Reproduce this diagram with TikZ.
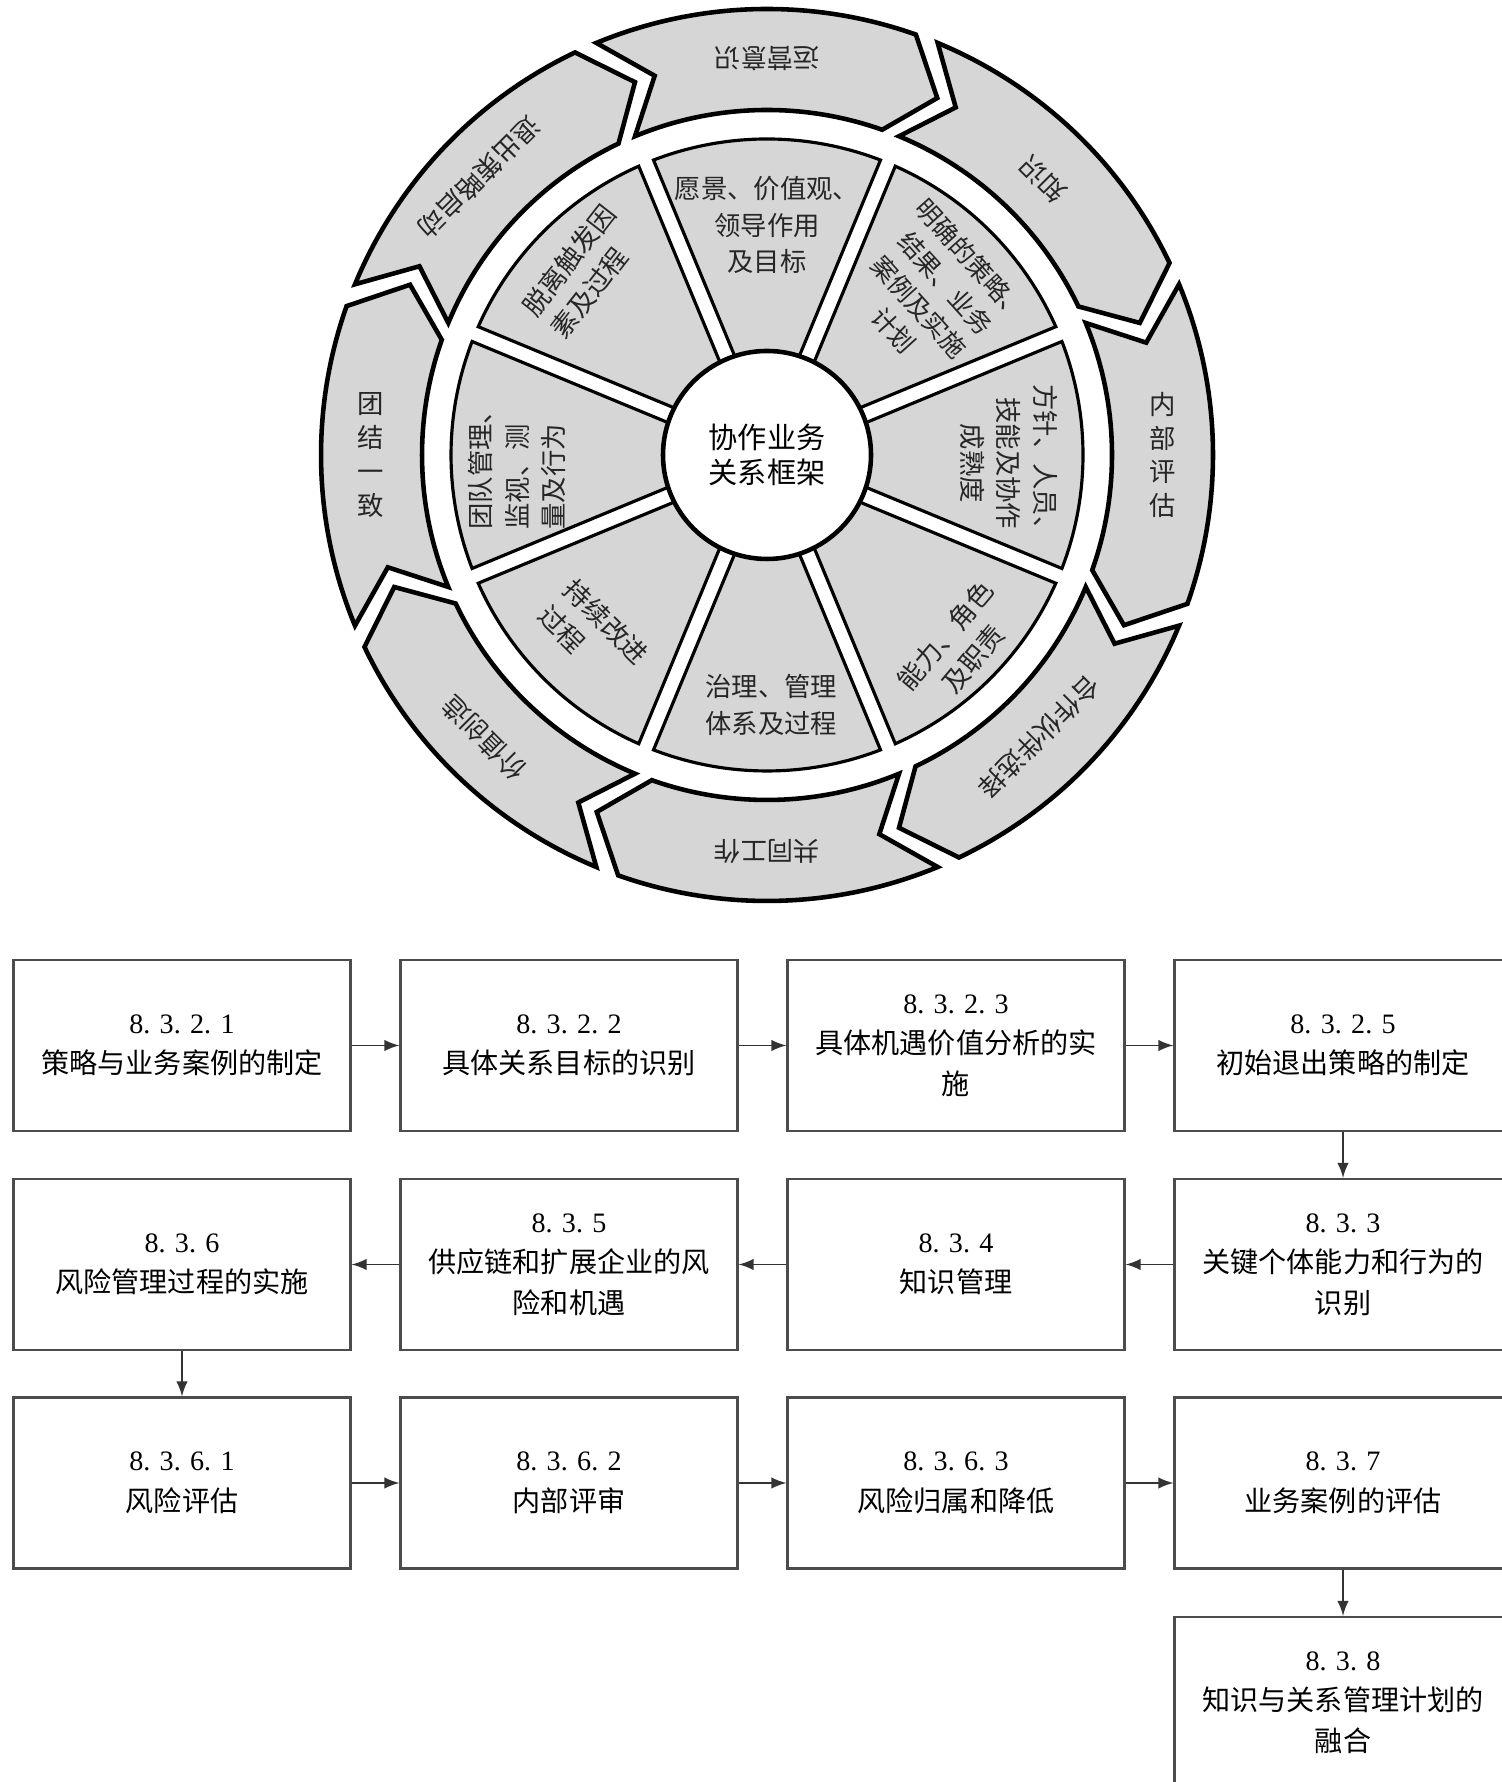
\documentclass[tikz,border=0pt]{standalone}
\usepackage{fontspec}
\setmainfont{Liberation Serif}
\newfontfamily\cjkfont{Noto Sans CJK SC}
\usepackage{tikz}
\usetikzlibrary{arrows,shapes,positioning}
\newcommand{\secno}[1]{{\rmfamily #1}}

\begin{document}
\begin{tikzpicture}[
    segment/.style={draw=black, line width=1.3pt, fill=black!16},
    wedge/.style={draw=black, line width=0.9pt, fill=black!16},
    ringtext/.style={font=\cjkfont\fontsize{7.5pt}{9.6pt}\selectfont, text=black!85, align=center, inner sep=0pt},
    wedgetext/.style={font=\cjkfont\fontsize{7.5pt}{10.3pt}\selectfont, text=black!85, inner sep=0pt},
    hub/.style={circle, draw=black, line width=1.3pt, fill=white, minimum size=2.08cm, inner sep=0pt, align=center, font=\cjkfont\fontsize{8.3pt}{10pt}\selectfont},
    stepbox/.style={rectangle, draw=black!70, line width=0.6pt, minimum width=3.37cm, minimum height=1.71cm, align=center, inner sep=2pt, font=\cjkfont\fontsize{8pt}{11.5pt}\selectfont},
    flow/.style={-latex, line width=0.5pt, black!80}
  ]
    \useasboundingbox (0,0) rectangle (15.01,17.82);

    % Top: collaborative business relationship wheel
    \begin{scope}[shift={(7.67,13.27)}]
      % outer ring: eight arrows running clockwise
      \filldraw[segment] (112.5:4.46) arc[start angle=112.5, end angle=70.5, radius=4.46] -- (64.5:3.955) -- (70.5:3.45) arc[start angle=70.5, end angle=112.5, radius=3.45] -- (106.5:3.955) -- cycle;
      \filldraw[segment] (67.5:4.46) arc[start angle=67.5, end angle=25.5, radius=4.46] -- (19.5:3.955) -- (25.5:3.45) arc[start angle=25.5, end angle=67.5, radius=3.45] -- (61.5:3.955) -- cycle;
      \filldraw[segment] (22.5:4.46) arc[start angle=22.5, end angle=-19.5, radius=4.46] -- (-25.5:3.955) -- (-19.5:3.45) arc[start angle=-19.5, end angle=22.5, radius=3.45] -- (16.5:3.955) -- cycle;
      \filldraw[segment] (-22.5:4.46) arc[start angle=-22.5, end angle=-64.5, radius=4.46] -- (-70.5:3.955) -- (-64.5:3.45) arc[start angle=-64.5, end angle=-22.5, radius=3.45] -- (-28.5:3.955) -- cycle;
      \filldraw[segment] (-67.5:4.46) arc[start angle=-67.5, end angle=-109.5, radius=4.46] -- (-115.5:3.955) -- (-109.5:3.45) arc[start angle=-109.5, end angle=-67.5, radius=3.45] -- (-73.5:3.955) -- cycle;
      \filldraw[segment] (-112.5:4.46) arc[start angle=-112.5, end angle=-154.5, radius=4.46] -- (-160.5:3.955) -- (-154.5:3.45) arc[start angle=-154.5, end angle=-112.5, radius=3.45] -- (-118.5:3.955) -- cycle;
      \filldraw[segment] (-157.5:4.46) arc[start angle=-157.5, end angle=-199.5, radius=4.46] -- (-205.5:3.955) -- (-199.5:3.45) arc[start angle=-199.5, end angle=-157.5, radius=3.45] -- (-163.5:3.955) -- cycle;
      \filldraw[segment] (-202.5:4.46) arc[start angle=-202.5, end angle=-244.5, radius=4.46] -- (-250.5:3.955) -- (-244.5:3.45) arc[start angle=-244.5, end angle=-202.5, radius=3.45] -- (-208.5:3.955) -- cycle;

      % inner wedges, split by white bands
      \filldraw[wedge] (111.05:3.16) arc[start angle=111.05, end angle=68.95, radius=3.16] -- (72.6:0.9) -- (107.4:0.9) -- cycle;
      \filldraw[wedge] (66.05:3.16) arc[start angle=66.05, end angle=23.95, radius=3.16] -- (27.6:0.9) -- (62.4:0.9) -- cycle;
      \filldraw[wedge] (21.05:3.16) arc[start angle=21.05, end angle=-21.05, radius=3.16] -- (-17.4:0.9) -- (17.4:0.9) -- cycle;
      \filldraw[wedge] (-23.95:3.16) arc[start angle=-23.95, end angle=-66.05, radius=3.16] -- (-62.4:0.9) -- (-27.6:0.9) -- cycle;
      \filldraw[wedge] (-68.95:3.16) arc[start angle=-68.95, end angle=-111.05, radius=3.16] -- (-107.4:0.9) -- (-72.6:0.9) -- cycle;
      \filldraw[wedge] (-113.95:3.16) arc[start angle=-113.95, end angle=-156.05, radius=3.16] -- (-152.4:0.9) -- (-117.6:0.9) -- cycle;
      \filldraw[wedge] (201.05:3.16) arc[start angle=201.05, end angle=158.95, radius=3.16] -- (162.6:0.9) -- (197.4:0.9) -- cycle;
      \filldraw[wedge] (156.05:3.16) arc[start angle=156.05, end angle=113.95, radius=3.16] -- (117.6:0.9) -- (152.4:0.9) -- cycle;

      \node[hub] (hub) at (0,0) {协作业务\\关系框架};

      % ring labels
      \node[ringtext, rotate=180] (aware) at (90:3.96) {运营意识};
      \node[ringtext, rotate=135] (know) at (45:3.9) {知识};
      \node[ringtext] (assess) at (0:3.96) {内\\部\\评\\估};
      \node[ringtext, rotate=-135] (select) at (-46:3.92) {合作伙伴选择};
      \node[ringtext, rotate=180] (work) at (-90:3.96) {共同工作};
      \node[ringtext, rotate=135] (value) at (-135:4.0) {价值创造};
      \node[ringtext] (stay) at (180:3.96) {团\\结\\一\\致};
      \node[ringtext, rotate=225] (exit) at (136:4.0) {退出策略启动};

      % wedge labels
      \node[wedgetext, align=center] (vision) at (90:2.3) {愿景、价值观、\\领导作用\\及目标};
      \node[wedgetext, align=center, rotate=-48, font=\cjkfont\fontsize{7.2pt}{10pt}\selectfont] (plan) at (44:2.3) {明确的策略、\\结果、业务\\案例及实施\\计划};
      \node[wedgetext, align=center, rotate=-90] (policy) at (-2:2.42) {方针、人员、\\技能及协作\\成熟度};
      \node[wedgetext, align=center, rotate=50] (roles) at (-45:2.72) {能力、角色\\及职责};
      \node[wedgetext, align=center] (govern) at (-89:2.5) {治理、管理\\体系及过程};
      \node[wedgetext, align=left, rotate=-45] (improve) at (-134:2.5) {持续改进\\过程};
      \node[wedgetext, align=left, rotate=90] (team) at (182:2.5) {团队管理、\\监视、测\\量及行为};
      \node[wedgetext, align=left, rotate=52] (disengage) at (135:2.6) {脱离触发因\\素及过程};
    \end{scope}

    % Bottom: process steps
    \node[stepbox] (strat) at (1.82,7.365) {\secno{8. 3. 2. 1}\\策略与业务案例的制定};
    \node[stepbox] (relobj) at (5.69,7.365) {\secno{8. 3. 2. 2}\\具体关系目标的识别};
    \node[stepbox] (oppval) at (9.56,7.365) {\secno{8. 3. 2. 3}\\具体机遇价值分析的实\\施};
    \node[stepbox] (exitstr) at (13.43,7.365) {\secno{8. 3. 2. 5}\\初始退出策略的制定};

    \node[stepbox] (keyind) at (13.43,5.175) {\secno{8. 3. 3}\\关键个体能力和行为的\\识别};
    \node[stepbox] (knowmg) at (9.56,5.175) {\secno{8. 3. 4}\\知识管理};
    \node[stepbox] (supply) at (5.69,5.175) {\secno{8. 3. 5}\\供应链和扩展企业的风\\险和机遇};
    \node[stepbox] (riskmg) at (1.82,5.175) {\secno{8. 3. 6}\\风险管理过程的实施};

    \node[stepbox] (riskas) at (1.82,2.99) {\secno{8. 3. 6. 1}\\风险评估};
    \node[stepbox] (intrev) at (5.69,2.99) {\secno{8. 3. 6. 2}\\内部评审};
    \node[stepbox] (riskmit) at (9.56,2.99) {\secno{8. 3. 6. 3}\\风险归属和降低};
    \node[stepbox] (bizeval) at (13.43,2.99) {\secno{8. 3. 7}\\业务案例的评估};

    \node[stepbox] (integr) at (13.43,0.795) {\secno{8. 3. 8}\\知识与关系管理计划的\\融合};

    \draw[flow] (strat) -- (relobj);
    \draw[flow] (relobj) -- (oppval);
    \draw[flow] (oppval) -- (exitstr);
    \draw[flow] (exitstr) -- (keyind);
    \draw[flow] (keyind) -- (knowmg);
    \draw[flow] (knowmg) -- (supply);
    \draw[flow] (supply) -- (riskmg);
    \draw[flow] (riskmg) -- (riskas);
    \draw[flow] (riskas) -- (intrev);
    \draw[flow] (intrev) -- (riskmit);
    \draw[flow] (riskmit) -- (bizeval);
    \draw[flow] (bizeval) -- (integr);
\end{tikzpicture}
\end{document}
